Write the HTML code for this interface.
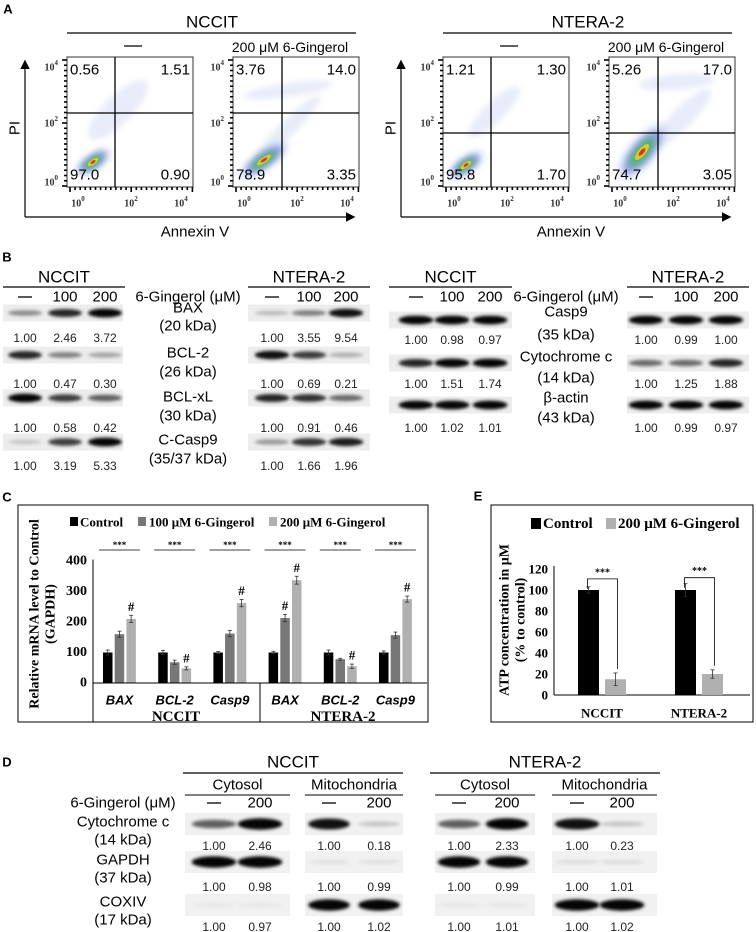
<!DOCTYPE html>
<html><head><meta charset="utf-8">
<style>
html,body{margin:0;padding:0;background:#fff;}
svg{display:block;}
.s{font-family:"Liberation Sans",sans-serif;}
.r{font-family:"Liberation Serif",serif;font-weight:bold;}
</style></head>
<body>
<svg id="fig" width="756" height="932" viewBox="0 0 756 932" xmlns="http://www.w3.org/2000/svg">
<defs>
<filter id="blur" x="-30%" y="-100%" width="160%" height="300%"><feGaussianBlur stdDeviation="1.6"/></filter>
<filter id="blur2" x="-50%" y="-50%" width="200%" height="200%"><feGaussianBlur stdDeviation="3"/></filter>
<marker id="arr" markerWidth="8" markerHeight="8" refX="6" refY="4" orient="auto"><path d="M0,0 L8,4 L0,8 z" fill="#000"/></marker>
</defs>
</svg>
<script>
// ===== Panel C data =====
const cGenes = ['BAX','BCL-2','Casp9','BAX','BCL-2','Casp9'];
const cControl = [100,100,100,100,100,100];
const c100 = [160,68,162,213,78,157];
const c200 = [210,48,262,337,55,275];
const cErrCtrl = [8,7,3,4,8,5];
const cErr100 = [10,7,10,12,3,10];
const cErr200 = [12,5,12,13,7,10];
const cTicks = [0,100,200,300,400];
// ===== Panel E data =====
const eCats = ['NCCIT','NTERA-2'];
const eControl = [100,100];
const e200 = [15,20];
const eErrCtrl = [3,6];
const eErr200 = [6,4];
const eTicks = [0,20,40,60,80,100,120];

const NS='http://www.w3.org/2000/svg';
const svg=document.getElementById('fig');
function mk(tag,attrs,name,parent){
  const el=document.createElementNS(NS,tag);
  for(const k in attrs) el.setAttribute(k,attrs[k]);
  
  
  (parent||svg).appendChild(el);
  return el;
}
function t(x,y,str,name,size,cls,anchor,extra){
  const el=mk('text',Object.assign({x:x,y:y,'font-size':size||13,'class':cls||'s','text-anchor':anchor||'middle','dominant-baseline':'central'},extra||{}),name);
  el.textContent=str;
  return el;
}
function ln(x1,y1,x2,y2,name,w,col){return mk('line',{x1:x1,y1:y1,x2:x2,y2:y2,stroke:col||'#000','stroke-width':w||1},name);}

// ===== Panel A =====
t(8,9,'A','panel-a-label',13,'s','middle',{'font-weight':'bold'});
function flowPlot(ox,vx,hy,nums,clusters,pref){
  const x0=ox+67,x1=ox+193,y0=57,y1=187;
  mk('rect',{x:x0,y:y0,width:x1-x0,height:y1-y0,fill:'#fff',stroke:'#333','stroke-width':1},pref+'-plot-frame');
  const g=mk('g',{},pref+'-scatter');
  clusters.forEach(c=>{
    const [cx,cy,rx,ry,rot,core]=c;
    mk('ellipse',{cx:ox+cx,cy:cy,rx:rx,ry:ry,fill:'#7d95e0','fill-opacity':0.18,transform:`rotate(${rot} ${ox+cx} ${cy})`,filter:'url(#blur2)'},pref+'-scatter-cloud',g);
    if(core){
      mk('ellipse',{cx:ox+cx,cy:cy,rx:rx*0.75,ry:ry*0.7,fill:'#2a50c8','fill-opacity':0.45,transform:`rotate(${rot} ${ox+cx} ${cy})`,filter:'url(#blur2)'},pref+'-scatter-density',g);
      mk('ellipse',{cx:ox+cx,cy:cy,rx:rx*0.5,ry:ry*0.45,fill:'#3cb44b','fill-opacity':0.7,transform:`rotate(${rot} ${ox+cx} ${cy})`,filter:'url(#blur2)'},pref+'-scatter-mid',g);
      mk('ellipse',{cx:ox+cx,cy:cy,rx:rx*0.28,ry:ry*0.25,fill:'#e8d21a','fill-opacity':0.85,transform:`rotate(${rot} ${ox+cx} ${cy})`},pref+'-scatter-high',g);
      mk('ellipse',{cx:ox+cx,cy:cy,rx:rx*0.13,ry:ry*0.13,fill:'#d62020','fill-opacity':0.85,transform:`rotate(${rot} ${ox+cx} ${cy})`},pref+'-scatter-peak',g);
    }
  });
  ln(ox+vx,y0,ox+vx,y1,pref+'-quadrant-vertical',1.3);
  ln(x0,hy,x1,hy,pref+'-quadrant-horizontal',1.3);
  for(let i=0;i<=24;i++){const y=y0+3+i*5.25;const w=(i%12===0)?5:3;ln(x0-w,y,x0,y,pref+'-y-tick',1.6);}
  for(let i=0;i<=24;i++){const x=x0+3+i*5.1;const h=(i%12===0)?5:3;ln(x,y1,x,y1+h,pref+'-x-tick',1.6);}
  const sup=(x,y,e,name,anchor)=>{const el=t(x,y,'10',name,10,'r','middle',{'font-weight':'normal',fill:'#333','text-anchor':anchor||'middle'});const ts=document.createElementNS(NS,'tspan');ts.setAttribute('dy','-5');ts.setAttribute('font-size','7');ts.textContent=e;el.appendChild(ts);};
  sup(x0-9,68,'4',pref+'-y-tick-label','end');sup(x0-9,124,'2',pref+'-y-tick-label','end');sup(x0-9,183,'0',pref+'-y-tick-label','end');
  sup(x0+11,204,'0',pref+'-x-tick-label');sup(x0+64,204,'2',pref+'-x-tick-label');sup(x0+114,204,'4',pref+'-x-tick-label');
  t(x0+3,70,nums[0],pref+'-q1-value',15,'s','start');
  t(x1-3,70,nums[1],pref+'-q2-value',15,'s','end');
  t(x0+3,175,nums[2],pref+'-q3-value',15,'s','start');
  t(x1-3,175,nums[3],pref+'-q4-value',15,'s','end');
}
function flowGroup(ox,title,p1,p2,pref){
  t(ox+212,22,title,pref+'-flow-title',17);
  ln(ox+67,33,ox+356,33,pref+'-flow-title-rule',1.2);
  ln(ox+124,46,ox+142,46,pref+'-control-label',1.3);
  t(ox+290,47,'200 μM 6-Gingerol',pref+'-treated-label',14);
  flowPlot(ox,p1.vx,p1.hy,p1.n,p1.c,pref+'-control');
  flowPlot(ox+166,p2.vx,p2.hy,p2.n,p2.c,pref+'-treated');
  ln(ox+25,217,ox+25,62,pref+'-pi-arrow',1.2).setAttribute('marker-end','url(#arr)');
  ln(ox+25,217,ox+353,217,pref+'-annexin-arrow',1.2).setAttribute('marker-end','url(#arr)');
  t(ox+15,128,'PI',pref+'-pi-label',15,'s','middle',{transform:`rotate(-90 ${ox+15} ${128})`});
  t(ox+195,232,'Annexin V',pref+'-annexin-label',15);
}
flowGroup(0,'NCCIT',
 {vx:115,hy:113,n:['0.56','1.51','97.0','0.90'],c:[[93,162,22,10,-35,true],[118,110,40,14,-45,false]]},
 {vx:116,hy:113,n:['3.76','14.0','78.9','3.35'],c:[[98,160,30,11,-35,true],[122,90,45,7,-8,false],[122,128,45,8,-45,false]]},'nccit');
flowGroup(376,'NTERA-2',
 {vx:115,hy:133,n:['1.21','1.30','95.8','1.70'],c:[[90,165,22,10,-35,true],[118,112,35,10,-45,false]]},
 {vx:116,hy:133,n:['5.26','17.0','74.7','3.05'],c:[[100,152,36,15,-50,true],[135,82,38,8,-5,false],[140,118,40,10,-45,false]]},'ntera');

// ===== Blot helpers =====
function strip(x0,x1,yc,h,lanes,dark,pref,bg){
  mk('rect',{x:x0,y:yc-h/2,width:x1-x0,height:h,fill:bg||'#ededed'},pref+'-blot-strip');
  lanes.forEach((lx,i)=>{
    const d=dark[i];const w=(x1-x0)/lanes.length*0.85;
    mk('ellipse',{cx:lx,cy:yc,rx:w/2,ry:Math.max(1.5,h*0.1+h*0.16*d),fill:'#000','fill-opacity':Math.min(1,0.03+d*0.95),filter:'url(#blur)'},pref+'-band');
  });
}
function vals(lanes,y,arr,pref){lanes.forEach((lx,i)=>t(lx,y,arr[i],pref+'-quant-value',12,'s','middle',{fill:'#222'}));}

// ===== Panel B =====
t(7,257,'B','panel-b-label',13,'s','middle',{'font-weight':'bold'});
function bGroup(x0,x1,title,lanes,pref){
  t((x0+x1)/2,277,title,pref+'-title',17);
  ln(x0,287,x1,287,pref+'-title-rule',1.2);
  ln(lanes[0]-7,297,lanes[0]+7,297,pref+'-control-lane',1.3);
  t(lanes[1],297,'100',pref+'-lane-100',15);
  t(lanes[2],297,'200',pref+'-lane-200',15);
}
const LL=[25,65,105], LN=[272,309,346], RL=[416,452,490], RN=[646,686,726];
bGroup(3,125,'NCCIT',LL,'b-left-nccit');bGroup(248,370,'NTERA-2',LN,'b-left-ntera');
bGroup(389,512,'NCCIT',RL,'b-right-nccit');bGroup(627,749,'NTERA-2',RN,'b-right-ntera');
t(188,297,'6-Gingerol (μM)','b-left-treatment-label',15);
t(566,297,'6-Gingerol (μM)','b-right-treatment-label',15);
const bl=[['BAX','(20 kDa)',313,338,[0.4,0.85,1],['1.00','2.46','3.72'],[0.2,0.45,0.95],['1.00','3.55','9.54'],308,326],
 ['BCL-2','(26 kDa)',355,384,[0.85,0.45,0.3],['1.00','0.47','0.30'],[0.95,0.75,0.25],['1.00','0.69','0.21'],353,372],
 ['BCL-xL','(30 kDa)',398,428,[1,0.75,0.6],['1.00','0.58','0.42'],[0.85,0.8,0.55],['1.00','0.91','0.46'],397,416],
 ['C-Casp9','(35/37 kDa)',442,466,[0.15,0.75,1],['1.00','3.19','5.33'],[0.35,0.8,0.9],['1.00','1.66','1.96'],440,459]];
bl.forEach(r=>{
  strip(3,123,r[2],17,LL,r[4],'b-'+r[0]);vals(LL,r[3],r[5],'b-nccit-'+r[0]);
  strip(248,370,r[2],17,LN,r[6],'b-'+r[0]);vals(LN,r[3],r[7],'b-ntera-'+r[0]);
  t(188,r[8],r[0],'b-protein-label',15);t(188,r[9],r[1],'b-protein-size',15);
});
const br=[['Casp9','(35 kDa)',320,340,[1,1,1],['1.00','0.98','0.97'],[1,1,1],['1.00','0.99','1.00'],312,335],
 ['Cytochrome c','(14 kDa)',363,384,[0.85,1,1],['1.00','1.51','1.74'],[0.55,0.55,0.85],['1.00','1.25','1.88'],357,378],
 ['β-actin','(43 kDa)',405,428,[1,1,1],['1.00','1.02','1.01'],[1,1,1],['1.00','0.99','0.97'],398,418]];
br.forEach(r=>{
  strip(389,512,r[2],17,RL,r[4],'b-'+r[0]);vals(RL,r[3],r[5],'b-nccit-'+r[0]);
  strip(627,749,r[2],17,RN,r[6],'b-'+r[0]);vals(RN,r[3],r[7],'b-ntera-'+r[0]);
  t(566,r[8],r[0],'b-protein-label',15);t(566,r[9],r[1],'b-protein-size',15);
});

// ===== Panel C =====
t(7,497,'C','panel-c-label',13,'s','middle',{'font-weight':'bold'});
mk('rect',{x:18,y:505,width:410,height:217,fill:'none',stroke:'#000','stroke-width':1},'c-chart-frame');
const cAx=93, cY0=683, cK=(683-561)/400;
const cy=v=>cY0-v*cK;
const cx=(g,s)=>103+g*55.2+s*11.7;
const cBW=9.5;
mk('rect',{x:70,y:517,width:8,height:9,fill:'#000'},'c-legend-control-swatch');
t(80,522,'Control','c-legend-control',13,'r','start');
mk('rect',{x:138,y:517,width:8,height:9,fill:'#777'},'c-legend-100-swatch');
t(149,522,'100 μM 6-Gingerol','c-legend-100',13,'r','start');
mk('rect',{x:269,y:517,width:8,height:9,fill:'#b0b0b0'},'c-legend-200-swatch');
t(280,522,'200 μM 6-Gingerol','c-legend-200',13,'r','start');
ln(cAx,cY0,cAx,cy(405),'c-y-axis',1);
cTicks.forEach(v=>t(cAx-6,cy(v),String(v),'c-y-tick-label',14,'r','end'));
t(35,614,'Relative mRNA level to Control','c-y-axis-title',14,'r','middle',{transform:'rotate(-90 35 614)'});
t(51,614,'(GAPDH)','c-y-axis-title-2',14,'r','middle',{transform:'rotate(-90 51 614)'});
const cCols=['#000','#777','#b0b0b0'];
function errbar(x,top,e,name){ln(x,cy(top+e),x,cy(top-e),name,0.8,'#333');ln(x-2,cy(top+e),x+2,cy(top+e),name,0.8,'#333');ln(x-2,cy(top-e),x+2,cy(top-e),name,0.8,'#333');}
cGenes.forEach((g,i)=>{
  [[cControl,cErrCtrl],[c100,cErr100],[c200,cErr200]].forEach((s,j)=>{
    const v=s[0][i];
    mk('rect',{x:cx(i,j),y:cy(v),width:cBW,height:cY0-cy(v),fill:cCols[j]},'c-bar-'+g.toLowerCase()+'-'+j);
    errbar(cx(i,j)+cBW/2,v,s[1][i],'c-error-bar');
  });
  t(cx(i,2)+cBW/2,cy(c200[i]+cErr200[i])-9,'#','c-significance-hash',13,'r','middle',{'font-weight':'normal'});
  if(i===3) t(cx(i,1)+cBW/2,cy(c100[i]+cErr100[i])-9,'#','c-significance-hash',13,'r','middle',{'font-weight':'normal'});
  ln(cx(i,0)-4,550,cx(i,2)+cBW+4,550,'c-significance-line',0.8);
  t(cx(i,1)+cBW/2,545,'***','c-significance-stars',9,'r','middle',{'font-weight':'normal'});
  t(cx(i,1)+cBW/2,700,g,'c-gene-label',13,'s','middle',{'font-style':'italic','font-weight':'bold'});
});
ln(cAx,cY0,427,cY0,'c-x-axis',1);
ln(cAx,cY0,cAx,722,'c-table-left',1);ln(260,cY0,260,722,'c-table-divider',1);
t(176,717,'NCCIT','c-cell-nccit',15,'r');t(343,717,'NTERA-2','c-cell-ntera',15,'r');

// ===== Panel E =====
t(478,496,'E','panel-e-label',13,'s','middle',{'font-weight':'bold'});
mk('rect',{x:491,y:505,width:262,height:217,fill:'none',stroke:'#000','stroke-width':1},'e-chart-frame');
const eAx=554,eY0=695,eK=1.05;
const ey=v=>eY0-v*eK;
const eXs=[578,675], eBW=21;
mk('rect',{x:531,y:518,width:10,height:11,fill:'#000'},'e-legend-control-swatch');
t(543,524,'Control','e-legend-control',15,'r','start');
mk('rect',{x:606,y:518,width:10,height:11,fill:'#b0b0b0'},'e-legend-200-swatch');
t(618,524,'200 μM 6-Gingerol','e-legend-200',15,'r','start');
ln(eAx,eY0,eAx,ey(123),'e-y-axis',1);ln(eAx,eY0,750,eY0,'e-x-axis',1);
eTicks.forEach(v=>t(eAx-6,ey(v),String(v),'e-y-tick-label',13,'r','end'));
t(505,620,'ATP concentration in μM','e-y-axis-title',14,'r','middle',{transform:'rotate(-90 505 620)'});
t(521,620,'(% to control)','e-y-axis-title-2',14,'r','middle',{transform:'rotate(-90 521 620)'});
function eErr(x,v,e,name){ln(x,ey(v+e),x,ey(v-e),name,0.8,'#333');ln(x-2,ey(v+e),x+2,ey(v+e),name,0.8,'#333');ln(x-2,ey(v-e),x+2,ey(v-e),name,0.8,'#333');}
eCats.forEach((c,i)=>{
  const x=eXs[i];
  mk('rect',{x:x,y:ey(eControl[i]),width:eBW,height:eY0-ey(eControl[i]),fill:'#000'},'e-bar-control-'+c.toLowerCase());
  eErr(x+eBW/2,eControl[i],eErrCtrl[i],'e-error-bar');
  mk('rect',{x:x+27,y:ey(e200[i]),width:eBW,height:eY0-ey(e200[i]),fill:'#b0b0b0'},'e-bar-200-'+c.toLowerCase());
  eErr(x+27+eBW/2,e200[i],eErr200[i],'e-error-bar');
  const bx1=x+eBW/2-1, bx2=x+27+eBW/2+2, top=ey(eControl[i]+eErrCtrl[i])-6-(i?0:2);
  mk('polyline',{points:`${bx1},${top+10} ${bx1},${top} ${bx2},${top} ${bx2},${ey(e200[i]+eErr200[i])-4}`,fill:'none',stroke:'#000','stroke-width':0.8},'e-significance-bracket');
  t((bx1+bx2)/2,top-6,'***','e-significance-stars',10,'r','middle',{'font-weight':'normal'});
  t(x+24,713,c,'e-category-label',13,'r');
});

// ===== Panel D =====
t(7,762,'D','panel-d-label',13,'s','middle',{'font-weight':'bold'});
t(293,762,'NCCIT','d-nccit-title',17);ln(183,773,403,773,'d-nccit-rule',1.2);
t(545,762,'NTERA-2','d-ntera-title',17);ln(430,773,660,773,'d-ntera-rule',1.2);
const dGroups=[[185,290,[214,260],'Cytosol','nccit-cytosol'],[305,403,[329,379],'Mitochondria','nccit-mito'],[435,535,[459,507],'Cytosol','ntera-cytosol'],[552,657,[577,622],'Mitochondria','ntera-mito']];
t(123,803,'6-Gingerol (μM)','d-treatment-label',15);
dGroups.forEach(g=>{
  t((g[0]+g[1])/2,785,g[3],'d-'+g[4]+'-header',15);
  ln(g[0],795,g[1],795,'d-'+g[4]+'-rule',1.1);
  ln(g[2][0]-7,803,g[2][0]+7,803,'d-control-lane',1.3);
  t(g[2][1],803,'200','d-lane-200',15);
});
const dRows=[['Cytochrome c','(14 kDa)',824,846,[[0.6,1],[0.95,0.15],[0.6,1],[0.95,0.15]],[['1.00','2.46'],['1.00','0.18'],['1.00','2.33'],['1.00','0.23']]],
 ['GAPDH','(37 kDa)',862,887,[[1,1],[0.04,0.04],[1,1],[0.05,0.06]],[['1.00','0.98'],['1.00','0.99'],['1.00','0.99'],['1.00','1.01']]],
 ['COXIV','(17 kDa)',905,927,[[0.01,0.01],[1,1],[0.02,0.02],[1,1]],[['1.00','0.97'],['1.00','1.02'],['1.00','1.01'],['1.00','1.02']]]];
dRows.forEach((r,ri)=>{
  t(123,[822,860,902][ri],r[0],'d-protein-label',15);
  t(123,[840,878,920][ri],r[1],'d-protein-size',15);
  dGroups.forEach((g,gi)=>{
    strip(g[0],g[1],r[2],22,g[2],r[4][gi],'d-'+r[0],'#f1f1f1');
    vals(g[2],r[3],r[5][gi],'d-'+g[4]);
  });
});
</script>
</body></html>
